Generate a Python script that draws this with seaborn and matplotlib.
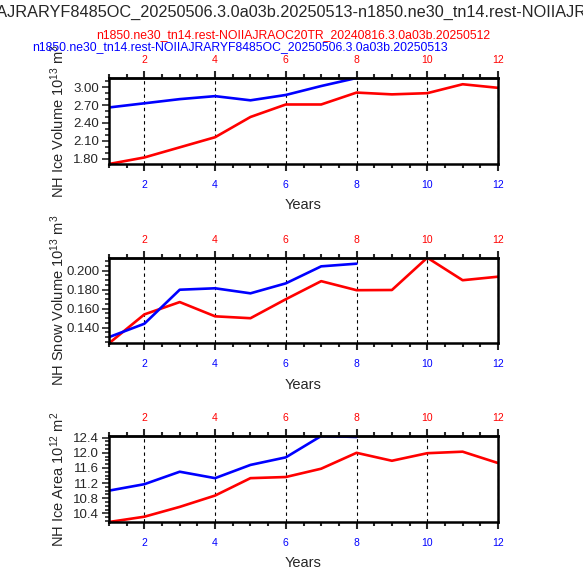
import matplotlib
matplotlib.use("Agg")
import matplotlib.pyplot as plt
from matplotlib.ticker import MultipleLocator, FormatStrFormatter
import numpy as np
import pandas as pd
import seaborn as sns

sns.set_style("white")
plt.rcParams["font.family"] = ["Liberation Sans", "DejaVu Sans"]
plt.rcParams["mathtext.fontset"] = "custom"
plt.rcParams["mathtext.rm"] = "Liberation Sans"
plt.rcParams["mathtext.it"] = "Liberation Sans"

# case names
case_red = "n1850.ne30_tn14.rest-NOIIAJRAOC20TR_20240816.3.0a03b.20250512"
case_blue = "n1850.ne30_tn14.rest-NOIIAJRARYF8485OC_20250506.3.0a03b.20250513"
title = case_blue + "-" + case_red

years_red = list(range(1, 13))
years_blue = list(range(1, 9))

# NH ice volume (1e13 m3)
ice_vol_red = [1.71, 1.82, 1.99, 2.16, 2.50, 2.71, 2.71, 2.91, 2.88, 2.90, 3.05, 2.99]
ice_vol_blue = [2.66, 2.73, 2.80, 2.85, 2.78, 2.87, 3.02, 3.155]
# NH snow volume (1e13 m3)
snow_vol_red = [0.1236, 0.154, 0.167, 0.152, 0.150, 0.170, 0.189, 0.1795, 0.1797, 0.2137, 0.190, 0.1937]
snow_vol_blue = [0.1301, 0.1442, 0.180, 0.1815, 0.1762, 0.1867, 0.2046, 0.2074]
# NH ice area (1e12 m2)
ice_area_red = [10.17, 10.31, 10.57, 10.87, 11.33, 11.36, 11.58, 12.00, 11.79, 11.99, 12.03, 11.73]
ice_area_blue = [11.00, 11.17, 11.50, 11.33, 11.68, 11.88, 12.445, 12.42]

panels = [
    (ice_vol_red, ice_vol_blue, r"NH Ice Volume 10$^{13}$ m$^{3}$", 0.30, 0.1, "%.2f"),
    (snow_vol_red, snow_vol_blue, r"NH Snow Volume 10$^{13}$ m$^{3}$", 0.02, 0.005, "%.3f"),
    (ice_area_red, ice_area_blue, r"NH Ice Area 10$^{12}$ m$^{2}$", 0.4, 0.1, "%.1f"),
]

W, H = 583, 571
fig = plt.figure(figsize=(W / 100, H / 100), dpi=100)

# axes boxes in pixels: left, top, right, bottom
boxes = [(109, 78, 498, 164), (109, 257.7, 498, 343.3), (109, 436, 498, 522)]

for (red, blue, ylab, major, minor, fmt), (l, t, r, b) in zip(panels, boxes):
    ax = fig.add_axes([l / W, 1 - b / H, (r - l) / W, (b - t) / H])
    df = pd.concat([
        pd.DataFrame({"year": years_red, "val": red, "case": "red"}),
        pd.DataFrame({"year": years_blue, "val": blue, "case": "blue"}),
    ])
    sns.lineplot(data=df, x="year", y="val", hue="case",
                 palette={"red": "red", "blue": "blue"}, linewidth=1.9,
                 legend=False, ax=ax)
    allv = red + blue
    ax.set_xlim(1, 12)
    ax.set_ylim(min(allv), max(allv))

    ax.xaxis.set_major_locator(MultipleLocator(2))
    ax.xaxis.set_minor_locator(MultipleLocator(0.5))
    ax.yaxis.set_major_locator(MultipleLocator(major))
    ax.yaxis.set_minor_locator(MultipleLocator(minor))
    ax.yaxis.set_major_formatter(FormatStrFormatter(fmt))

    ax.tick_params(axis="x", which="both", direction="out", top=False, bottom=True,
                   labelsize=7.5, labelcolor="blue", width=1.5, pad=6.5)
    ax.tick_params(axis="x", which="major", length=5)
    ax.tick_params(axis="x", which="minor", length=3)
    ax.tick_params(axis="y", which="both", direction="out", left=True, right=False,
                   labelsize=9.5, width=1.2, pad=2)
    ax.tick_params(axis="y", which="major", length=5)
    ax.tick_params(axis="y", which="minor", length=3)

    # top axis, red labels
    top = ax.secondary_xaxis("top")
    top.xaxis.set_major_locator(MultipleLocator(2))
    top.xaxis.set_minor_locator(MultipleLocator(0.5))
    top.tick_params(axis="x", which="both", direction="out", labelsize=7.5,
                    labelcolor="red", width=1.5, pad=4.5)
    top.tick_params(axis="x", which="major", length=5)
    top.tick_params(axis="x", which="minor", length=3)
    top.spines["top"].set_linewidth(1.8)

    for s in ax.spines.values():
        s.set_linewidth(1.8)
        s.set_color("black")

    ax.grid(axis="x", which="major", color="black", linestyle=(0, (3, 3)), linewidth=0.8)
    ax.grid(axis="y", visible=False)

    ax.set_xlabel("Years", fontsize=10.5)
    ax.xaxis.set_label_coords(0.5, -0.40)
    ax.set_ylabel(ylab, fontsize=10.5)
    ax.yaxis.set_label_coords(-0.108, 0.5)

fig.text(0.587, 1 - 12 / H, title, ha="center", va="center", fontsize=11.7)
fig.text(293.5 / W, 1 - 35 / H, case_red, ha="center", va="center", fontsize=8.8, color="red")
fig.text(240 / W, 1 - 47 / H, case_blue, ha="center", va="center", fontsize=8.8, color="blue")

fig.savefig("out.png", dpi=100)
